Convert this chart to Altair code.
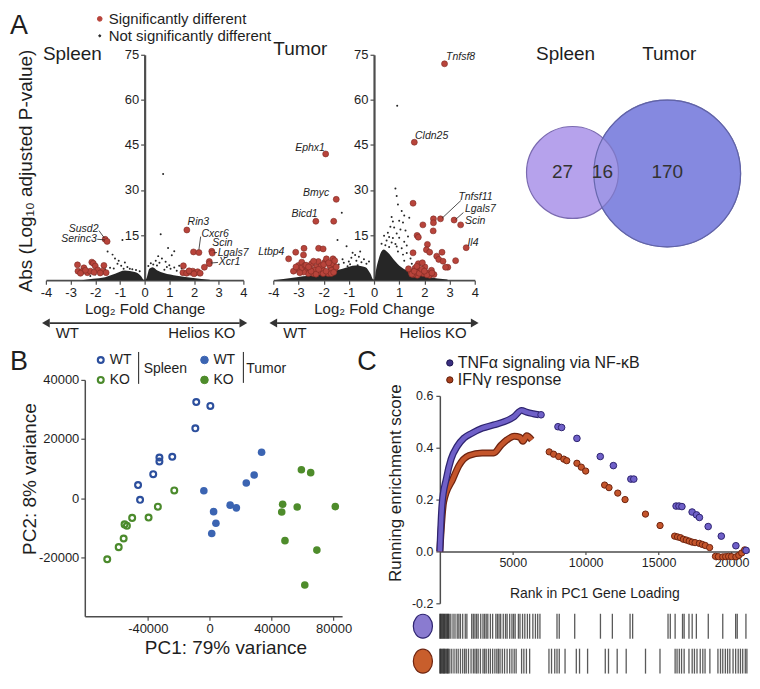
import math
import altair as alt
import pandas as pd

FONT = "Liberation Sans"
TXT = "#1e1e1e"
AXC = "#4d4d4d"

# ================= Panel A : volcano plots =================
spleen_sig_lfc = [1.71, 1.98, 2.20, 2.72, 2.74, 2.62, 2.62, 2.42, 1.57, 1.55, 1.70, 1.85, 1.95,
                  2.05, 2.15, 1.80, 2.00, 2.25, -1.60, -1.52, -2.72, -2.70, -2.46, -2.55, -2.32,
                  -2.14, -2.08, -2.00, -2.20, -1.90, -1.65, -1.70, -1.56, -2.05, -1.80, -2.40, -2.60]
spleen_sig_p = [16.7, 9.4, 9.2, 9.6, 9.0, 6.2, 5.5, 4.3, 4.8, 2.5, 2.3, 2.6, 3.0,
                2.4, 2.8, 3.1, 2.1, 2.3, 13.6, 12.9, 5.1, 3.0, 4.1, 2.8, 2.5,
                6.0, 5.6, 4.7, 3.0, 3.4, 4.9, 3.0, 2.5, 2.6, 2.4, 3.3, 2.3]
spleen_ns_lfc = [-1.5, -1.3, -1.2, -1.05, -0.9, -1.1, -0.95, -0.8, -0.7, -1.4, -1.6, -1.25, -0.6,
                 -0.5, -0.85, -1.8, -2.0, -2.2, 0.65, 0.75, 0.55, 0.7, 0.45, 0.6, 0.85, 1.0, 1.2,
                 1.1, 1.2, 1.4, 1.5, 0.9, 0.35, 0.25, 1.7, 1.3, 1.9, 2.2, 0.5, 0.8, -0.35, -0.2,
                 0.15, 1.05, 0.95]
spleen_ns_p = [9.5, 8.5, 7.2, 6.5, 13.4, 5.5, 4.8, 5.9, 4.4, 4.1, 3.6, 3.9, 3.8,
               3.6, 3.8, 2.6, 1.9, 1.4, 15.3, 35.3, 8.0, 7.2, 6.5, 5.8, 6.1, 5.0, 4.2,
               8.3, 9.6, 4.8, 3.9, 4.4, 5.2, 5.6, 3.0, 3.1, 2.3, 1.6, 4.9, 3.5, 3.4, 3.0,
               4.7, 3.8, 10.7]
spleen_cloud_lfc = [-2.55, -2.1, -1.6, -1.2, -0.8, -0.4, -0.15, -0.03, 0.03, 0.09, 0.19, 0.32,
                    0.52, 0.78, 1.31, 1.98, 2.64]
spleen_cloud_p = [0.0, 0.5, 1.0, 2.1, 3.2, 2.7, 1.4, 0.1, 0.1, 1.0, 3.8, 4.3,
                  3.2, 2.4, 1.5, 0.7, 0.1]
spleen_genes = ["Susd2", "Serinc3", "Rin3", "Cxcr6", "Scin", "Lgals7", "Xcr1"]
spleen_gene_lfc = [-1.87, -1.94, 1.74, 2.30, 2.74, 2.96, 3.00]
spleen_gene_p = [17.1, 13.7, 19.2, 15.4, 12.4, 9.2, 5.9]
spleen_lead_x1 = [-1.85, -1.92, 2.27, 2.93, 2.97]
spleen_lead_y1 = [16.5, 13.6, 14.5, 9.2, 5.9]
spleen_lead_x2 = [-1.63, -1.62, 2.20, 2.80, 2.68]
spleen_lead_y2 = [14.0, 13.4, 10.2, 9.1, 5.7]

tumor_sig_lfc = [2.80, 1.60, -1.92, -1.50, -1.60, -2.31, 1.55, 1.94, 2.36, 2.36,
                 2.35, 2.64, 3.18, 3.44, 3.66, 1.71, 1.76, 2.12, 1.55, 2.08,
                 2.21, 2.49, 2.70, 2.57, 2.74, 3.24, 2.93, 2.84, 1.47, 1.63,
                 1.76, 1.82, 1.95, 2.02, 2.28, 2.21, 1.72, 1.56, 1.92, 1.37,
                 1.67, 2.08, 2.38, -3.39, -3.11, -2.78, -2.80, -2.20, -2.02, -3.00,
                 -2.87, -2.67, -2.48, -2.28, -2.15, -1.95, -1.76, -1.63, -1.56, -2.41,
                 -2.61, -2.80, -1.82, -2.05, -1.63, -2.89, -2.21, -1.89, -3.06, -2.54,
                 -2.35, -1.69, -1.50, -1.56, -2.74, -2.02,
                 -3.20, -2.95, -2.70, -2.50, -2.30, -2.10, -1.90, -1.70, -2.60, -2.40,
                 -3.10, -2.00, -1.80, -2.20, -1.60, 1.50, 1.60, 1.80, 1.90, 2.10, 2.00, 1.70, 2.30]
tumor_sig_p = [72.0, 45.9, 42.0, 26.9, 19.6, 19.6, 25.6, 18.4, 20.4, 19.1,
               16.4, 20.4, 20.0, 18.4, 10.8, 14.9, 14.3, 11.9, 9.1, 10.1,
               9.3, 8.0, 9.3, 6.9, 6.3, 6.5, 4.3, 4.3, 2.7, 4.0,
               5.5, 3.3, 2.2, 4.4, 3.3, 1.6, 1.6, 1.9, 5.8, 3.8,
               2.7, 2.5, 1.9, 7.1, 9.3, 10.6, 8.4, 10.6, 10.4, 4.9,
               6.0, 3.8, 5.5, 4.4, 2.7, 6.0, 4.9, 7.1, 3.8, 2.2,
               2.2, 2.7, 2.2, 3.8, 5.5, 4.0, 6.2, 7.1, 3.6, 3.8,
               3.3, 3.3, 4.4, 6.5, 4.9, 2.2,
               3.0, 2.5, 5.0, 3.0, 2.0, 4.8, 3.0, 2.2, 4.4, 6.3,
               4.4, 5.2, 5.8, 3.6, 2.6, 2.0, 3.0, 2.3, 3.6, 1.8, 3.0, 4.6, 2.4]
tumor_ns_lfc = [0.92, 0.85, 0.9, 0.95, 1.1, 1.2, 0.7, 0.75, 1.0, 1.15, 0.65, 0.8, 1.05, 1.25,
                0.55, 0.9, 0.6, 0.75, 1.0, 0.5, 0.7, 0.85, 1.2, 0.45, 0.6, 0.9, 1.1, 1.3,
                0.95, 1.15, 1.3, 1.45, 1.2, 1.5, 1.7, 0.3, 0.4, 1.35, 1.4, 1.55, 1.9,
                -1.28, -1.45, -1.09, -0.85, -0.9, -0.7, -0.6, -0.5, -1.0, -1.2, -1.4, -0.3,
                -0.4, -0.75, -0.55, -1.6, -1.8, -0.95, -0.2, -1.25, -2.4, -2.6, -1.05, -0.65]
tumor_ns_p = [58.0, 30.5, 28.0, 25.2, 23.0, 21.5, 21.0, 19.5, 19.8, 19.2, 17.8, 17.5, 16.9, 16.5,
              15.8, 15.5, 14.4, 14.0, 14.1, 13.2, 12.5, 12.0, 12.8, 11.6, 11.0, 11.2, 10.6, 11.5,
              9.5, 8.5, 9.0, 7.2, 6.5, 5.5, 4.2, 12.1, 14.8, 14.5, 20.8, 3.6, 2.6,
              22.4, 13.4, 11.3, 9.1, 7.5, 6.5, 7.8, 6.0, 6.2, 5.8, 5.2, 5.5,
              7.0, 8.4, 9.5, 4.6, 3.6, 5.3, 6.2, 7.0, 3.0, 2.5, 4.6, 5.0]
tumor_cloud_lfc = [-3.98, -3.07, -2.03, -1.25, -0.73, -0.34, -0.14, -0.03, 0.03, 0.05, 0.18,
                   0.38, 0.55, 0.77, 1.09, 1.48, 2.14, 2.92]
tumor_cloud_p = [0.0, 1.0, 2.1, 3.8, 4.9, 4.3, 2.1, 0.2, 0.2, 1.6, 6.9,
                 10.2, 9.2, 7.0, 4.3, 2.7, 1.1, 0.2]
tumor_genes = ["Tnfsf8", "Cldn25", "Ephx1", "Bmyc", "Bicd1", "Ltbp4", "Tnfsf11", "Lgals7", "Scin", "Il4"]
tumor_gene_lfc = [2.86, 1.63, -1.95, -1.78, -2.24, -3.56, 3.35, 3.61, 3.61, 3.71]
tumor_gene_p = [74.2, 48.0, 44.1, 28.9, 22.1, 9.3, 27.8, 23.8, 19.6, 12.5]
tumor_lead_x1 = [3.45, 3.55]
tumor_lead_y1 = [26.5, 22.5]
tumor_lead_x2 = [2.70, 3.24]
tumor_lead_y2 = [20.6, 20.2]

lfc_ticks = [-4, -3, -2, -1, 0, 1, 2, 3, 4]
p_ticks = [15, 30, 45, 60, 75]
arrow_labels = ["WT", "Helios KO"]

# ================= Venn =================
venn_sets = ["Spleen", "Tumor"]
venn_totals = [43, 186]
venn_regions = ["27", "16", "170"]

# ================= Panel B : PCA =================
spleen_wt_pc1 = [-8700, 400, -9300, -24200, -32500, -32500, -36500, -46300, -45000]
spleen_wt_pc2 = [32500, 31200, 23600, 14000, 13700, 12400, 8100, 4400, -600]
spleen_ko_pc1 = [-22900, -33500, -39500, -50100, -53500, -55000, -55600, -58800, -66200]
spleen_ko_pc2 = [2600, -2900, -6600, -6700, -9400, -8900, -13700, -16600, -20700]
tumor_wt_pc1 = [33500, 28700, 23600, -3800, 13200, 17200, 2500, 4000, 1300]
tumor_wt_pc2 = [15500, 7800, 5100, 2500, -2400, -3300, -4600, -8500, -12000]
tumor_ko_pc1 = [59200, 65200, 47100, 46500, 56500, 81100, 48600, 69200, 61400]
tumor_ko_pc2 = [9600, 8600, -2100, -4700, -3000, -2900, -14400, -17600, -29400]

# ================= Panel C : GSEA =================
tnf_dense_rank = [0, 150, 440, 770, 1200, 1650, 2200, 2900, 3700, 4400, 5100, 5600, 5950, 6400, 6800]
tnf_dense_es = [0.0, 0.18, 0.28, 0.356, 0.406, 0.437, 0.456, 0.475, 0.488, 0.50, 0.52, 0.544, 0.537, 0.531, 0.527]
tnf_sparse_rank = [6940, 8100, 8350, 9400, 11000, 11900, 13100, 13300, 16200, 16400, 16600, 17300,
                   17600, 17800, 18400, 19300, 20300, 21000]
tnf_sparse_es = [0.527, 0.481, 0.478, 0.436, 0.366, 0.331, 0.279, 0.279, 0.175, 0.175, 0.173, 0.152,
                 0.141, 0.131, 0.096, 0.059, 0.022, 0.004]
ifn_dense_rank = [0, 260, 900, 1300, 2000, 2900, 3700, 4200, 4600, 5100, 5500, 5700, 5950, 6300]
ifn_dense_es = [0.0, 0.19, 0.28, 0.33, 0.37, 0.38, 0.38, 0.41, 0.43, 0.444, 0.44, 0.425, 0.446, 0.43]
ifn_sparse_rank = [7500, 7800, 8150, 8500, 8700, 9400, 9700, 10000, 11300, 11600, 12200, 12700, 14100,
                   15100, 16100, 16300, 16500, 16700, 16900, 17100, 17300, 17500, 17800, 18000, 18200,
                   18500, 18900, 19100, 19400, 19600, 19800, 20000, 20300, 20500, 20700, 20900]
ifn_sparse_es = [0.384, 0.375, 0.366, 0.356, 0.35, 0.34, 0.325, 0.31, 0.256, 0.246, 0.225, 0.2, 0.144,
                 0.1, 0.059, 0.056, 0.053, 0.047, 0.044, 0.04, 0.036, 0.034, 0.031, 0.027, 0.023,
                 0.015, -0.019, -0.02, -0.021, -0.02, -0.019, -0.02, -0.021, -0.015, -0.006, 0.006]
tnf_hits = [0, 40, 90, 140, 200, 250, 310, 360, 420, 480, 530, 590, 640, 751, 905, 1038, 1192, 1303,
            1413, 1567, 1744, 1854, 2185, 2296, 2406, 2517, 2627, 2803, 2958, 3068, 3179, 3289, 3466,
            3620, 3841, 3951, 4061, 4172, 4349, 4503, 4613, 4790, 4944, 5055, 5165, 5386, 5496, 5672,
            5827, 6004, 6158, 6379, 6555, 6710, 6864, 8034, 8188, 9248, 11013, 11830, 13044, 13220,
            15648, 15803, 16134, 16641, 16752, 17083, 17303, 17590, 18407, 19400, 20283, 20393, 20989]
ifn_hits = [0, 40, 90, 140, 200, 250, 310, 360, 420, 480, 530, 590, 685, 817, 972, 1126, 1258, 1413,
            1567, 1700, 1810, 1965, 2141, 2296, 2406, 2517, 2627, 2781, 2958, 3068, 3179, 3333, 3466,
            3620, 3774, 3907, 4017, 4128, 4282, 4437, 4613, 4790, 4944, 5099, 5231, 5606, 5761, 5937,
            6158, 7482, 7659, 7880, 8034, 8188, 8586, 9358, 9579, 10131, 11344, 11565, 12161, 12779,
            14103, 15096, 16134, 16266, 16421, 16575, 16752, 17083, 17303, 17458, 17634, 17855, 18032,
            18186, 18517, 19069, 19245, 19400, 19577, 19731, 19885, 20106, 20283, 20459, 20613, 20768,
            20945, 21055]
gene_sets = ["TNFα signaling via NF-κB", "IFNγ response"]

# ---------------------------------------------------------------
NEG = "replace(datum.label, '\u2212', '-')"
GENE_FS = 10.5


def ptext(text, x, y, size, align="left", baseline="middle", color=TXT, italic=False):
    return alt.Chart(pd.DataFrame({"t": [text]})).mark_text(
        font=FONT, fontSize=size, align=align, baseline=baseline, color=color,
        fontStyle="italic" if italic else "normal"
    ).encode(x=alt.value(x), y=alt.value(y), text="t:N")


def pdot(x, y, size, fill, stroke=None, filled=True, sw=1.0, shape="circle"):
    kw = dict(shape=shape, size=size, filled=filled, strokeWidth=sw, opacity=1)
    if filled:
        kw["fill"] = fill
        kw["stroke"] = stroke if stroke else fill
    else:
        kw["stroke"] = fill
    return alt.Chart(pd.DataFrame({"a": [0]})).mark_point(**kw).encode(x=alt.value(x), y=alt.value(y))


def prule(x, y, x2, y2, color=TXT, sw=1.0):
    return alt.Chart(pd.DataFrame({"a": [0]})).mark_rule(color=color, strokeWidth=sw).encode(
        x=alt.value(x), y=alt.value(y), x2=alt.value(x2), y2=alt.value(y2))


RED = "#b8443b"
REDS = "#7e2a24"
DOT = "#262626"
VW_S, VW_T, VH = 198, 202, 226
ARROW_Y = VH + 43


def volcano(sig_x, sig_y, ns_x, ns_y, cl_x, cl_y, genes, gx, gy, lx1, ly1, lx2, ly2, width, is_spleen):
    xsc = alt.Scale(domain=[-4, 4], nice=False, zero=False)
    ysc = alt.Scale(domain=[0, 75], nice=False)
    xax = alt.Axis(values=lfc_ticks, title="Log\u2082 Fold Change", titleFontSize=15, titleY=21,
                   titleBaseline="top", labelFontSize=13, labelPadding=2, tickSize=4,
                   labelFlush=False, labelOverlap=False, domainWidth=1.6, labelExpr=NEG)
    ykw = dict(values=p_ticks, offset=-width / 2, labelFontSize=13, tickSize=4, labelPadding=2,
               domainWidth=2.2, labelFlush=False, labelOverlap=False)
    if is_spleen:
        ykw.update(title="Abs (Log\u2081\u2080 adjusted P-value)", titleFontSize=19, titleAngle=270,
                   titleX=-(width / 2 + 10), titleY=116, titleBaseline="bottom")
    else:
        ykw.update(title=None)
    xe = alt.X("x:Q", scale=xsc, axis=xax)
    ye = alt.Y("y:Q", scale=ysc, axis=alt.Axis(**ykw))

    cloud = alt.Chart(pd.DataFrame({"x": cl_x, "y": cl_y})).mark_area(
        color=DOT, interpolate="monotone").encode(x=xe, y=ye)
    ns = alt.Chart(pd.DataFrame({"x": ns_x, "y": ns_y})).mark_circle(
        size=4, color=DOT, opacity=1).encode(x=xe, y=ye)
    sig = alt.Chart(pd.DataFrame({"x": sig_x, "y": sig_y})).mark_point(
        filled=True, size=36, fill=RED, stroke=REDS, strokeWidth=0.6, opacity=1).encode(x=xe, y=ye)
    lead = alt.Chart(pd.DataFrame({"x": lx1, "y": ly1, "x2": lx2, "y2": ly2})).mark_rule(
        color="#222", strokeWidth=0.8).encode(x=xe, y=ye, x2="x2:Q", y2="y2:Q")
    gdf = pd.DataFrame({"x": gx, "y": gy, "g": genes})
    lab_l = alt.Chart(gdf).transform_filter("datum.x < 0").mark_text(
        font=FONT, fontSize=GENE_FS, fontStyle="italic", align="right", baseline="middle", color=TXT
    ).encode(x=xe, y=ye, text="g:N")
    lab_r = alt.Chart(gdf).transform_filter("datum.x > 0").mark_text(
        font=FONT, fontSize=GENE_FS, fontStyle="italic", align="left", baseline="middle", color=TXT
    ).encode(x=xe, y=ye, text="g:N")
    arr_line = alt.Chart(pd.DataFrame({"x": [lfc_ticks[0] + 0.15], "x2": [lfc_ticks[-1] - 0.15]})).mark_rule(
        color="#333", strokeWidth=1.8).encode(x=xe, x2="x2:Q", y=alt.value(ARROW_Y))
    arr_heads = alt.Chart(pd.DataFrame({"x": [lfc_ticks[0], lfc_ticks[-1]], "d": ["l", "r"]})).mark_point(
        filled=True, size=80, color="#333", opacity=1).encode(
        x=xe, y=alt.value(ARROW_Y),
        shape=alt.Shape("d:N", scale=alt.Scale(domain=["l", "r"], range=["triangle-left", "triangle-right"]),
                        legend=None))
    arr_wt = alt.Chart(pd.DataFrame({"x": [-3.6], "t": [arrow_labels[0]]})).mark_text(
        font=FONT, fontSize=15, align="left", baseline="middle", color=TXT).encode(
        x=xe, y=alt.value(ARROW_Y + 10), text="t:N")
    arr_ko = alt.Chart(pd.DataFrame({"x": [3.68], "t": [arrow_labels[1]]})).mark_text(
        font=FONT, fontSize=15, align="right", baseline="middle", color=TXT).encode(
        x=xe, y=alt.value(ARROW_Y + 10), text="t:N")
    layers = [cloud, ns, sig, lead, lab_l, lab_r, arr_line, arr_heads, arr_wt, arr_ko]
    if is_spleen:
        layers += [ptext("Spleen", -3, -1, 19),
                   ptext("A", -27, -29, 27, align="center"),
                   pdot(54, -36, 22, RED),
                   ptext("Significantly different", 63, -36, 15),
                   pdot(54, -19, 4, DOT),
                   ptext("Not significantly different", 63, -19, 15)]
    else:
        layers += [ptext("Tumor", 0, -6, 19)]
    return alt.layer(*layers).properties(width=width, height=VH)


spleen_chart = volcano(spleen_sig_lfc, spleen_sig_p, spleen_ns_lfc, spleen_ns_p, spleen_cloud_lfc,
                       spleen_cloud_p, spleen_genes, spleen_gene_lfc, spleen_gene_p,
                       spleen_lead_x1, spleen_lead_y1, spleen_lead_x2, spleen_lead_y2, VW_S, True)
tumor_chart = volcano(tumor_sig_lfc, tumor_sig_p, tumor_ns_lfc, tumor_ns_p, tumor_cloud_lfc,
                      tumor_cloud_p, tumor_genes, tumor_gene_lfc, tumor_gene_p,
                      tumor_lead_x1, tumor_lead_y1, tumor_lead_x2, tumor_lead_y2, VW_T, False)

# ---------------- Venn ----------------
VENN_W = 248
venn_df = pd.DataFrame({"set": venn_sets, "total": venn_totals})
venn_size = alt.Scale(domain=[min(venn_totals), max(venn_totals)],
                      range=[math.pi * 52 ** 2, math.pi * 83 ** 2])
venn_center = {"Spleen": (68, 118), "Tumor": (163, 119)}


def vcircle(name, fill, fop, stroke, sop):
    cx, cy = venn_center[name]
    return alt.Chart(venn_df).transform_filter(alt.datum.set == name).mark_point(
        shape="circle", filled=True, fill=fill, fillOpacity=fop, stroke=stroke, strokeOpacity=sop,
        strokeWidth=1.2, opacity=1).encode(
        x=alt.value(cx), y=alt.value(cy),
        size=alt.Size("total:Q", scale=venn_size, legend=None))


venn = alt.layer(
    vcircle("Tumor", "#8589e0", 1, "#6a6cae", 1),
    vcircle("Spleen", "#b6a2ec", 1, "#7a6ab0", 1),
    vcircle("Tumor", "#8589e0", 0.45, "#5f62a6", 0.9),
    ptext(venn_sets[0], 61, -1, 19, align="center"),
    ptext(venn_sets[1], 165, -1, 19, align="center"),
    ptext(venn_regions[0], 58, 118, 19, align="center", color="#333"),
    ptext(venn_regions[1], 98, 118, 19, align="center", color="#333"),
    ptext(venn_regions[2], 163, 118, 19, align="center", color="#333"),
).properties(width=VENN_W, height=VH)

# ---------------- PCA ----------------
groups = ["Spleen WT", "Spleen KO", "Tumor WT", "Tumor KO"]
gcols = ["#2c4f9d", "#4b8a2c", "#3b64b2", "#4e8c2b"]
pca_df = pd.concat([
    pd.DataFrame({"pc1": spleen_wt_pc1, "pc2": spleen_wt_pc2, "grp": groups[0], "tissue": "Spleen"}),
    pd.DataFrame({"pc1": spleen_ko_pc1, "pc2": spleen_ko_pc2, "grp": groups[1], "tissue": "Spleen"}),
    pd.DataFrame({"pc1": tumor_wt_pc1, "pc2": tumor_wt_pc2, "grp": groups[2], "tissue": "Tumor"}),
    pd.DataFrame({"pc1": tumor_ko_pc1, "pc2": tumor_ko_pc2, "grp": groups[3], "tissue": "Tumor"}),
], ignore_index=True)
PW, PH = 258, 237
pxe = alt.X("pc1:Q", scale=alt.Scale(domain=[-80700, 85500], nice=False, zero=False),
            axis=alt.Axis(values=[-40000, 0, 40000, 80000], format="d", title="PC1: 79% variance",
                          titleFontSize=19, titleX=141, titleY=22, titleBaseline="top", labelFontSize=13,
                          tickSize=4, labelPadding=2, labelFlush=False, labelOverlap=False,
                          domainWidth=1.5, labelExpr=NEG))
pye = alt.Y("pc2:Q", scale=alt.Scale(domain=[-40000, 40000], nice=False),
            axis=alt.Axis(values=[-20000, 0, 20000, 40000], format="d", title="PC2: 8% variance",
                          titleFontSize=19, titleAngle=270, titleX=-45, titleY=99, titleBaseline="bottom",
                          labelFontSize=13, tickSize=4, labelPadding=2, labelFlush=False,
                          labelOverlap=False, domainWidth=1.5, labelExpr=NEG))
pcol = alt.Color("grp:N", scale=alt.Scale(domain=groups, range=gcols), legend=None)
pca_open = alt.Chart(pca_df).transform_filter("datum.tissue == 'Spleen'").mark_point(
    filled=False, size=34, strokeWidth=2.2, opacity=1).encode(x=pxe, y=pye, color=pcol)
pca_fill = alt.Chart(pca_df).transform_filter("datum.tissue == 'Tumor'").mark_point(
    filled=True, size=58, opacity=1).encode(x=pxe, y=pye, color=pcol)
pca = alt.layer(
    pca_open, pca_fill,
    ptext("B", -66, -18, 27, align="center"),
    pdot(16, -20, 34, gcols[0], filled=False, sw=2.2),
    pdot(16, 0, 34, gcols[1], filled=False, sw=2.2),
    ptext("WT", 25, -20, 14), ptext("KO", 25, 0, 14),
    prule(54, -28, 54, 4),
    ptext("Spleen", 59, -11, 14),
    pdot(120, -20, 58, gcols[2]), pdot(120, 0, 58, gcols[3]),
    ptext("WT", 129, -20, 14), ptext("KO", 129, 0, 14),
    prule(159, -28, 159, 3),
    ptext("Tumor", 162, -11, 14),
).properties(width=PW, height=PH)

# ---------------- GSEA ----------------
GW, GH = 310, 208
TNF_F, TNF_S = "#6f60c8", "#2e2470"
IFN_F, IFN_S = "#c4552b", "#6e2410"
gxs = alt.Scale(domain=[0, 21200], nice=False, zero=False)
gys = alt.Scale(domain=[-0.2, 0.6], nice=False)
gxe = alt.X("rank:Q", scale=gxs,
            axis=alt.Axis(values=[5000, 10000, 15000, 20000], format="d", offset=-GH * 0.25,
                          title="Rank in PC1 Gene Loading", titleFontSize=14, titleY=35,
                          titleBaseline="top", labelFontSize=12.5, labelPadding=2, tickSize=3,
                          labelFlush=False, labelOverlap=False, domainWidth=1.5))
gye = alt.Y("es:Q", scale=gys,
            axis=alt.Axis(values=[-0.2, 0.0, 0.2, 0.4, 0.6], format=".1f", title="Running enrichment score",
                          titleFontSize=17, titleAngle=270, titleX=-35, titleY=87, titleBaseline="bottom",
                          labelFontSize=12.5, tickSize=4, labelPadding=3, labelFlush=False,
                          labelOverlap=False, domainWidth=1.5, labelExpr=NEG))
tnf_d = pd.DataFrame({"rank": tnf_dense_rank, "es": tnf_dense_es})
ifn_d = pd.DataFrame({"rank": ifn_dense_rank, "es": ifn_dense_es})
tnf_s = pd.DataFrame({"rank": tnf_sparse_rank, "es": tnf_sparse_es})
ifn_s = pd.DataFrame({"rank": ifn_sparse_rank, "es": ifn_sparse_es})
gsea = alt.layer(
    alt.Chart(ifn_d).mark_line(color=IFN_S, strokeWidth=7, interpolate="monotone").encode(x=gxe, y=gye),
    alt.Chart(ifn_d).mark_line(color=IFN_F, strokeWidth=4.5, interpolate="monotone").encode(x=gxe, y=gye),
    alt.Chart(tnf_d).mark_line(color=TNF_S, strokeWidth=7, interpolate="monotone").encode(x=gxe, y=gye),
    alt.Chart(tnf_d).mark_line(color=TNF_F, strokeWidth=4.5, interpolate="monotone").encode(x=gxe, y=gye),
    alt.Chart(ifn_s).mark_point(filled=True, size=40, fill=IFN_F, stroke=IFN_S, strokeWidth=1,
                                opacity=1).encode(x=gxe, y=gye),
    alt.Chart(tnf_s).mark_point(filled=True, size=44, fill=TNF_F, stroke=TNF_S, strokeWidth=1,
                                opacity=1).encode(x=gxe, y=gye),
    ptext("C", -73, -34, 27, align="center"),
    pdot(10, -33, 40, "#3a2f80", stroke="#1e1650"),
    ptext(gene_sets[0], 18, -33, 16),
    pdot(10, -16, 40, "#a8401e", stroke="#5e1c08"),
    ptext(gene_sets[1], 18, -16, 16),
).properties(width=GW, height=GH)

# barcode
ELLIPSE = "M -0.8 0 A 0.8 1 0 1 1 0.8 0 A 0.8 1 0 1 1 -0.8 0 Z"
bc_df = pd.concat([pd.DataFrame({"rank": tnf_hits, "set": "TNF"}),
                   pd.DataFrame({"rank": ifn_hits, "set": "IFN"})], ignore_index=True)
bys = alt.Scale(domain=["TNF", "IFN"], type="point", range=[13, 48], padding=0)
bars = alt.Chart(bc_df).mark_tick(thickness=1.3, size=25, color="#1a1a1a", opacity=0.72).encode(
    x=alt.X("rank:Q", scale=gxs, axis=None), y=alt.Y("set:N", scale=bys, axis=None))
ov_df = pd.DataFrame({"set": ["TNF", "IFN"]})
ov_tnf = alt.Chart(ov_df).transform_filter("datum.set == 'TNF'").mark_point(
    shape=ELLIPSE, size=576, filled=True, fill="#8a7bd0", stroke="#2e2470", strokeWidth=1.2,
    opacity=1).encode(x=alt.value(-17), y=alt.Y("set:N", scale=bys, axis=None))
ov_ifn = alt.Chart(ov_df).transform_filter("datum.set == 'IFN'").mark_point(
    shape=ELLIPSE, size=576, filled=True, fill="#c85e2c", stroke="#6e2410", strokeWidth=1.2,
    opacity=1).encode(x=alt.value(-17), y=alt.Y("set:N", scale=bys, axis=None))
barcode = alt.layer(bars, ov_tnf, ov_ifn).properties(width=GW, height=61)


def spacer(w, h):
    return alt.Chart(pd.DataFrame({"a": [0]})).mark_point(opacity=0).encode(
        x=alt.value(0), y=alt.value(0)).properties(width=w, height=h)


# ---------------- layout ----------------
row1 = alt.hconcat(spleen_chart, tumor_chart, venn, spacing=30, bounds="flush")
gsea_col = alt.vconcat(spacer(GW, 6), gsea, barcode, spacing=10, bounds="flush")
row2 = alt.hconcat(spacer(9, 10), pca, spacer(38, 10), gsea_col, spacing=30, bounds="flush")

chart = alt.vconcat(row1, row2, spacing=326, bounds="flush").properties(
    padding={"left": 1, "top": 3, "right": 0, "bottom": 0}
).configure_view(stroke=None).configure_axis(
    grid=False, labelFont=FONT, titleFont=FONT, domainColor=AXC, tickColor=AXC,
    labelColor=TXT, titleColor=TXT, titleFontWeight="normal", tickWidth=1.2
)

chart.save("out.html", embed_options={"renderer": "svg", "actions": False})
